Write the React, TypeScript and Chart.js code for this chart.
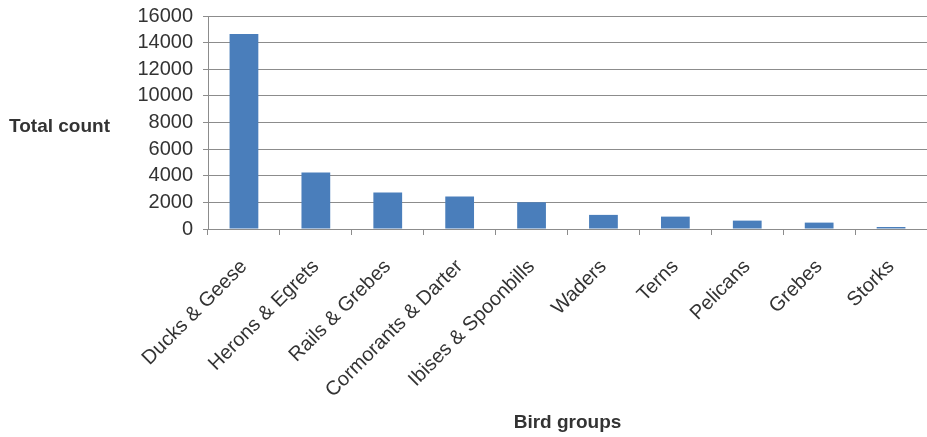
import React, { useEffect, useRef } from "react";
import { Chart, registerables } from "chart.js";

Chart.register(...registerables);

const categories = [
  "Ducks & Geese",
  "Herons & Egrets",
  "Rails & Grebes",
  "Cormorants & Darter",
  "Ibises & Spoonbills",
  "Waders",
  "Terns",
  "Pelicans",
  "Grebes",
  "Storks",
];
const totalCounts = [14650, 4250, 2740, 2440, 2010, 1060, 930, 630, 480, 150];
const yTitle = "Total count";
const xTitle = "Bird groups";

const FONT = "'Liberation Sans', Arial, sans-serif";
const TEXT = "#333333";
const GRID = "#8c8c8c";

const yTitlePlugin = {
  id: "yTitlePlugin",
  afterDraw(chart: any) {
    const { ctx, chartArea } = chart;
    ctx.save();
    ctx.font = `bold 19px ${FONT}`;
    ctx.fillStyle = TEXT;
    ctx.textAlign = "left";
    ctx.textBaseline = "middle";
    ctx.fillText(yTitle, 9, (chartArea.top + chartArea.bottom) / 2 + 4);
    ctx.restore();
  },
};

export default function App() {
  const ref = useRef<HTMLCanvasElement | null>(null);
  useEffect(() => {
    if (!ref.current) return;
    const chart = new Chart(ref.current, {
      type: "bar",
      data: {
        labels: categories,
        datasets: [
          {
            data: totalCounts,
            backgroundColor: "#4a7ebb",
            borderWidth: 0,
            barPercentage: 0.4,
            categoryPercentage: 1,
          },
        ],
      },
      options: {
        animation: false,
        responsive: true,
        maintainAspectRatio: false,
        layout: { padding: { top: 16, right: 0, left: 0, bottom: 0 } },
        plugins: { legend: { display: false }, tooltip: { enabled: false } },
        scales: {
          y: {
            min: 0,
            max: 16000,
            afterFit: (s: any) => {
              s.width = 208;
              s.paddingTop = 0;
              s.paddingBottom = 0;
            },
            ticks: {
              stepSize: 2000,
              autoSkip: false,
              color: TEXT,
              font: { family: FONT, size: 20 },
              padding: 10,
              callback: (v: any) => String(v),
            },
            grid: { color: GRID, tickLength: 5 },
            border: { color: GRID },
          },
          x: {
            afterFit: (s: any) => {
              s.height = 437 - 229;
              s.paddingLeft = 0;
              s.paddingRight = 0;
            },
            ticks: {
              color: TEXT,
              font: { family: FONT, size: 20 },
              minRotation: 45,
              maxRotation: 45,
              autoSkip: false,
              padding: 20,
            },
            grid: { drawOnChartArea: false, color: GRID, tickLength: 6, offset: true },
            border: { color: GRID },
            title: {
              display: true,
              text: xTitle,
              color: TEXT,
              font: { family: FONT, size: 19, weight: "bold" },
              padding: { top: 0, bottom: 3 },
            },
          },
        },
      },
      plugins: [yTitlePlugin],
    });
    return () => chart.destroy();
  }, []);
  return (
    <div style={{ position: "fixed", left: 0, top: 0, width: 927, height: 437, background: "#fff" }}>
      <canvas ref={ref} />
    </div>
  );
}
